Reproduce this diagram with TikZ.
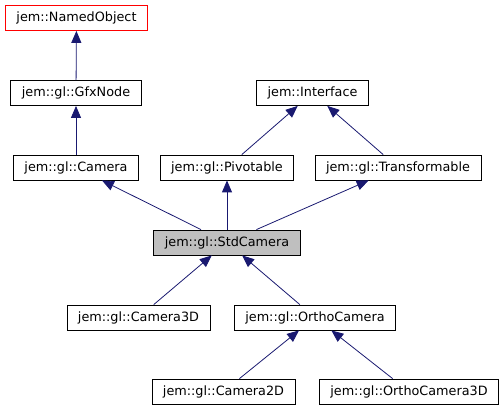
\documentclass[tikz,border=0pt]{standalone}
\usepackage{fontspec}
\setmainfont{DejaVu Sans}
\usepackage{tikz}
\usetikzlibrary{arrows.meta}
\definecolor{edgeblue}{HTML}{191970}
\definecolor{basegray}{HTML}{BFBFBF}
\definecolor{alertred}{HTML}{FF0000}

\begin{document}
\begin{tikzpicture}[
  x=1pt,y=-1pt,
  box/.style={draw=black,fill=white,line width=0.8pt,minimum height=25pt,inner xsep=11pt,font=\fontsize{12.8}{15}\selectfont},
  arrow/.style={-{Triangle[length=12pt,width=10pt]},line width=0.8pt,draw=edgeblue}
]
\useasboundingbox (0,0) rectangle (503,411);
\node[box,draw=alertred] (named) at (76.5,18) {jem::NamedObject};
\node[box] (gfx) at (76,93) {jem::gl::GfxNode};
\node[box] (iface) at (312.5,93) {jem::Interface};
\node[box] (camera) at (76,167.5) {jem::gl::Camera};
\node[box] (pivot) at (227,167.5) {jem::gl::Pivotable};
\node[box] (trans) at (398,167.5) {jem::gl::Transformable};
\node[box,fill=basegray] (std) at (227,242.5) {jem::gl::StdCamera};
\node[box] (cam3d) at (138.5,317.5) {jem::gl::Camera3D};
\node[box] (ortho) at (315,317.5) {jem::gl::OrthoCamera};
\node[box] (cam2d) at (223.5,391.5) {jem::gl::Camera2D};
\node[box] (ortho3d) at (409,391.5) {jem::gl::OrthoCamera3D};
\draw[arrow] (gfx) -- (named);
\draw[arrow] (camera) -- (gfx);
\draw[arrow] (pivot) -- (iface);
\draw[arrow] (trans) -- (iface);
\draw[arrow] (std) -- (camera);
\draw[arrow] (std) -- (pivot);
\draw[arrow] (std) -- (trans);
\draw[arrow] (cam3d) -- (std);
\draw[arrow] (ortho) -- (std);
\draw[arrow] (cam2d) -- (ortho);
\draw[arrow] (ortho3d) -- (ortho);
\end{tikzpicture}
\end{document}
